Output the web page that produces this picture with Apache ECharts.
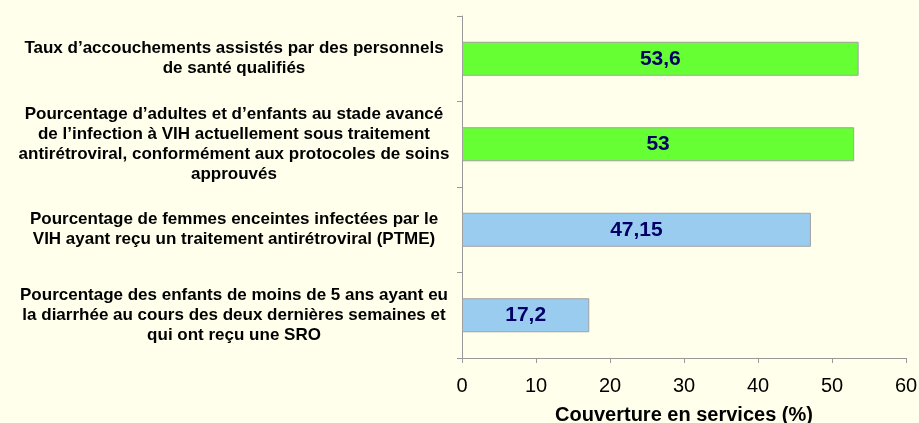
<!DOCTYPE html>
<html>
<head>
<meta charset="utf-8">
<script src="https://cdn.jsdelivr.net/npm/echarts@6/dist/echarts.min.js"></script>
<style>
  html, body { margin: 0; padding: 0; background: #ffffeb; }
  #main { width: 919px; height: 423px; }
</style>
</head>
<body>
<div id="main"></div>
<script>
// indicateurs, du haut vers le bas
const categories = [
  "Taux d\u2019accouchements assistés par des personnels\nde santé qualifiés",
  "Pourcentage d\u2019adultes et d\u2019enfants au stade avancé\nde l\u2019infection à VIH actuellement sous traitement\nantirétroviral, conformément aux protocoles de soins\napprouvés",
  "Pourcentage de femmes enceintes infectées par le\nVIH ayant reçu un traitement antirétroviral (PTME)",
  "Pourcentage des enfants de moins de 5 ans ayant eu\nla diarrhée au cours des deux dernières semaines et\nqui ont reçu une SRO"
];
const values = [53.6, 53, 47.15, 17.2];
const barColors = ["#66ff33", "#66ff33", "#99ccee", "#99ccee"];

let myChart = echarts.init(document.getElementById("main"));
myChart.setOption({
  backgroundColor: "#ffffeb",
  animation: false,
  grid: { left: 462, right: 13, top: 16, bottom: 65, containLabel: false, outerBoundsMode: "none" },
  xAxis: {
    type: "value",
    min: 0,
    max: 60,
    interval: 10,
    name: "Couverture en services (%)",
    nameLocation: "middle",
    nameGap: 47,
    nameTextStyle: { fontFamily: "Liberation Sans", fontWeight: "bold", fontSize: 20, color: "#000" },
    axisLine: { show: true, lineStyle: { color: "#999" } },
    axisTick: { show: true, inside: false, length: 5, lineStyle: { color: "#999" } },
    axisLabel: { fontFamily: "Liberation Sans", fontSize: 20, color: "#000", margin: 18 },
    splitLine: { show: false }
  },
  yAxis: {
    type: "category",
    inverse: true,
    data: categories,
    axisLine: { show: true, lineStyle: { color: "#999" } },
    axisTick: { show: true, length: 5, alignWithLabel: false, lineStyle: { color: "#999" } },
    axisLabel: {
      align: "center",
      margin: 228,
      fontFamily: "Liberation Sans",
      fontWeight: "bold",
      fontSize: 17,
      lineHeight: 20,
      color: "#000"
    }
  },
  series: [
    {
      type: "bar",
      barWidth: 34,
      data: values.map((v, i) => ({
        value: v,
        itemStyle: { color: barColors[i], borderColor: "#a0a0a0", borderWidth: 1 }
      })),
      label: {
        show: true,
        position: "inside",
        fontFamily: "Liberation Sans",
        fontWeight: "bold",
        fontSize: 21,
        color: "#000066",
        formatter: (p) => String(p.value).replace(".", ",")
      }
    }
  ]
});
</script>
</body>
</html>
